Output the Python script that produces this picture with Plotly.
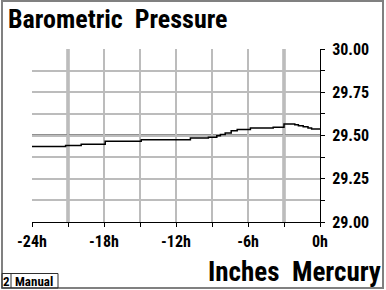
import plotly.graph_objects as go

# data
hours = [-24, -21.2, -19.9, -17.9, -14.9, -10.8, -9.3, -8.6, -8.3, -7.9, -7.4, -6.9,
         -5.8, -3.9, -3.0, -2.1, -1.8, -1.4, -1.0, -0.7, 0]
pressure_inhg = [29.436, 29.442, 29.450, 29.467, 29.475, 29.485, 29.490, 29.498, 29.506,
                 29.514, 29.527, 29.535, 29.543, 29.548, 29.566, 29.562, 29.556, 29.550,
                 29.543, 29.537, 29.537]
x_tickvals = [-24, -18, -12, -6, 0]
x_ticktext = ["-24h", "-18h", "-12h", "-6h", "0h"]
y_tickvals = [29.00, 29.25, 29.50, 29.75, 30.00]
y_ticktext = ["29.00", "29.25", "29.50", "29.75", "30.00"]
emphasis_hours = [-21, -3]
emphasis_inhg = [29.5]

W, H = 386, 290
ML, MR, MT, MB = 32, 66, 49, 68
PW, PH = W - ML - MR, H - MT - MB


def px(x):
    return (x - ML) / PW


def py(y):
    return (H - MB - y) / PH


COND = "Roboto Condensed, Liberation Sans, sans-serif"
GRID = "#bcbcbc"
EMPH = "#909090"

fig = go.Figure()
fig.add_trace(go.Scatter(x=hours, y=pressure_inhg, mode="lines", line_shape="hv",
                         line=dict(color="black", width=1.5), hoverinfo="skip",
                         showlegend=False))

shapes = []
for h in emphasis_hours:
    shapes.append(dict(type="line", xref="x", yref="paper", x0=h, x1=h, y0=0, y1=1,
                       line=dict(color=EMPH, width=3), layer="below"))
for v in emphasis_inhg:
    shapes.append(dict(type="line", xref="paper", yref="y", x0=0, x1=1, y0=v, y1=v,
                       line=dict(color=EMPH, width=3), layer="below"))
# outer frame
shapes.append(dict(type="rect", xref="paper", yref="paper", x0=px(2), x1=px(383),
                   y0=py(288), y1=py(1), line=dict(color="#808080", width=2)))
# status box
shapes.append(dict(type="rect", xref="paper", yref="paper", x0=px(2), x1=px(58),
                   y0=py(288), y1=py(273.5), line=dict(color="#303030", width=1)))
shapes.append(dict(type="line", xref="paper", yref="paper", x0=px(11), x1=px(11),
                   y0=py(288), y1=py(273.5), line=dict(color="#303030", width=1)))

annotations = [
    dict(text="<b>Barometric&nbsp;&nbsp;Pressure</b>", xref="paper", yref="paper",
         x=px(6), y=py(18.5), xanchor="left", yanchor="middle", showarrow=False,
         font=dict(family=COND, size=26, color="black")),
    dict(text="<b>Inches&nbsp;&nbsp;Mercury</b>", xref="paper", yref="paper",
         x=px(383), y=py(272), xanchor="right", yanchor="middle", showarrow=False,
         font=dict(family=COND, size=27, color="black")),
    dict(text="<b>2</b>", xref="paper", yref="paper", x=px(6.5), y=py(281.5),
         xanchor="center", yanchor="middle", showarrow=False,
         font=dict(family=COND, size=13, color="black")),
    dict(text="<b>Manual</b>", xref="paper", yref="paper", x=px(13), y=py(281.5),
         xanchor="left", yanchor="middle", showarrow=False,
         font=dict(family=COND, size=13, color="black")),
]

fig.update_layout(
    width=W, height=H, margin=dict(l=ML, r=MR, t=MT, b=MB),
    paper_bgcolor="white", plot_bgcolor="white",
    shapes=shapes, annotations=annotations,
    xaxis=dict(range=[-24, 0], tickvals=x_tickvals,
               ticktext=["<b>%s</b>" % t for t in x_ticktext],
               ticks="outside", ticklen=4, tickcolor="black", tickwidth=1,
               showgrid=True, gridcolor=GRID, gridwidth=2,
               minor=dict(dtick=3, tick0=0, ticks="outside", ticklen=4,
                          tickcolor="black", showgrid=True, gridcolor=GRID, gridwidth=2),
               showline=True, linecolor="black", linewidth=1, zeroline=False,
               ticklabelstandoff=1,
               tickfont=dict(family=COND, size=16, color="black"),
               fixedrange=True),
    yaxis=dict(range=[29, 30], side="right", tickvals=y_tickvals,
               ticktext=["<b>%s</b>" % t for t in y_ticktext],
               ticks="outside", ticklen=4, tickcolor="black", tickwidth=1,
               showgrid=True, gridcolor=GRID, gridwidth=2,
               minor=dict(dtick=0.125, tick0=29, ticks="outside", ticklen=4,
                          tickcolor="black", showgrid=True, gridcolor=GRID, gridwidth=2),
               showline=True, linecolor="black", linewidth=1, zeroline=False,
               ticklabelstandoff=4,
               tickfont=dict(family=COND, size=16, color="black"),
               fixedrange=True),
)

fig.write_html("out.html", config=dict(displayModeBar=False))
